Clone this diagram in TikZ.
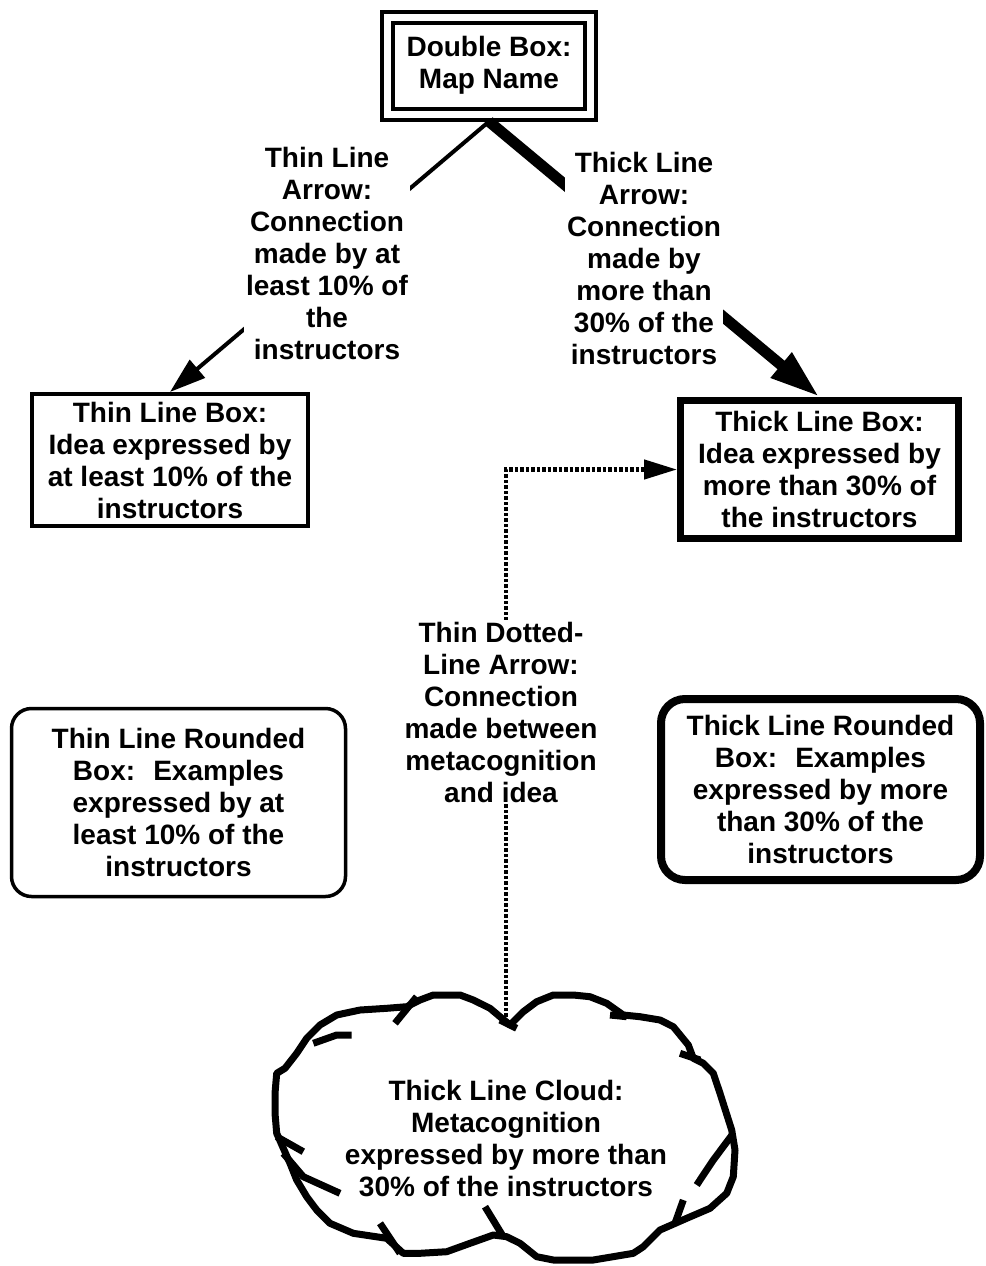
\documentclass[tikz,border=0pt]{standalone}
\usepackage{fontspec}
\setmainfont{Liberation Sans}
\usetikzlibrary{arrows.meta}
\begin{document}
\begin{tikzpicture}[x=1pt,y=-1pt,
  every node/.style={font=\bfseries\fontsize{28}{32}\selectfont, align=center},
  labeltext/.style={fill=white, inner sep=2pt},
  doublebox/.style={draw, double, double distance=7pt, line width=4pt,
    minimum width=203pt, minimum height=97pt, inner sep=0pt, outer sep=7.5pt},
  plainbox/.style={draw, line width=4pt, minimum width=276pt, minimum height=132pt, inner sep=0pt},
  heavybox/.style={draw, line width=7pt, minimum width=278pt, minimum height=138pt, inner sep=0pt},
  roundthin/.style={draw, rounded corners=20pt, line width=3.5pt, minimum width=334pt, minimum height=188pt, inner sep=0pt},
  roundthick/.style={draw, rounded corners=24pt, line width=8pt, minimum width=319pt, minimum height=181pt, inner sep=0pt},
  thinconn/.style={line width=4pt, -{Triangle[length=36pt,width=23pt]}},
  heavyconn/.style={line width=11pt, -{Triangle[length=50pt,width=30pt]}},
  dotconn/.style={line width=4.5pt, dash pattern=on 3.5pt off 2pt, -{Triangle[length=33pt,width=19pt]}},
  cloudline/.style={line width=7pt, line join=round},
]
\useasboundingbox (0,0) rectangle (985,1266);

% boxes
\node[doublebox] (dbl) at (489,65.5) {Double Box:\\Map Name};
\node[plainbox] (thinbox) at (170,460) {Thin Line Box:\\Idea expressed by\\at least 10\% of the\\instructors};
\node[heavybox] (thickbox) at (819.5,469.5) {Thick Line Box:\\Idea expressed by\\more than 30\% of\\the instructors};
\node[roundthin] (thinround) at (178.5,802.5) {Thin Line Rounded\\Box:~ Examples\\expressed by at\\least 10\% of the\\instructors};
\node[roundthick] (thickround) at (820.5,789.5) {Thick Line Rounded\\Box:~ Examples\\expressed by more\\than 30\% of the\\instructors};

% cloud outline
\draw[cloudline] (510,1025) -- (500,1016.7) -- (490,1008.3) -- (473.3,1000) -- (460,995)
  -- (433.3,995) -- (420,1000) -- (406.7,1006.7) -- (386.7,1008.3) -- (360,1010)
  -- (336.7,1015) -- (320,1025) -- (306.7,1038.3) -- (296.7,1053.3) -- (285,1068.3)
  -- (276.7,1073.3) -- (275,1093.3) -- (275,1113.3) -- (276.7,1133.3) -- (290,1163.3)
  -- (296.7,1180) -- (306.7,1196.7) -- (316.7,1210) -- (330,1223.3) -- (353.3,1233.3)
  -- (386.7,1238.3) -- (403.3,1253.3) -- (420,1253.3) -- (446.7,1251.7) -- (470,1243.3)
  -- (493.3,1235) -- (506.7,1236.7) -- (520,1243.3) -- (536.7,1256.7) -- (553.3,1260)
  -- (593.3,1260) -- (633.3,1253.3) -- (643.3,1246.7) -- (660,1230) -- (686.7,1218.3)
  -- (710,1208.3) -- (726.7,1193.3) -- (733.3,1176.7) -- (735,1150) -- (731.7,1130)
  -- (720,1093.3) -- (713.3,1073.3) -- (703.3,1063.3) -- (693.3,1058.3) -- (688.3,1045)
  -- (673.3,1026.7) -- (660,1020) -- (640,1016.7) -- (623.3,1015) -- (606.7,1003.3)
  -- (590,996.7) -- (573.3,995) -- (553.3,995) -- (536.7,1001.7) -- (523.3,1011.7) -- cycle;
% small arc strokes of the cloud
\draw[cloudline] (395,1023.3) -- (416.7,996.7);
\draw[cloudline] (351.7,1035) -- (336.7,1035) -- (313.3,1043.3);
\draw[cloudline] (276.7,1136.7) -- (303.3,1151.7);
\draw[cloudline] (283.3,1153.3) -- (303.3,1176.7) -- (340,1193.3);
\draw[cloudline] (380,1223.3) -- (400,1253.3);
\draw[cloudline] (485,1206.7) -- (503.3,1236.7);
\draw[cloudline] (683.3,1200) -- (675,1223.3);
\draw[cloudline] (696.7,1185) -- (713.3,1160) -- (733.3,1133.3);
\draw[cloudline] (610,1015) -- (626.7,1016.7);
\draw[cloudline] (680,1053.3) -- (700,1060);
\draw[cloudline] (500,1020) -- (516.7,1028.3);
\node (cloud) at (506,1138.5) {Thick Line Cloud:\\Metacognition\\expressed by more than\\30\% of the instructors};
\coordinate (cloudtop) at (506,1022);

% connectors
\draw[thinconn] (dbl.south) -- (thinbox.north);
\draw[heavyconn] (dbl.south) -- (thickbox.north);
\draw[dotconn] (cloudtop) |- (thickbox.west);

% connector labels
\node[labeltext] (thinlabel) at (327,253) {Thin Line\\Arrow:\\Connection\\made by at\\least 10\% of\\the\\instructors};
\node[labeltext] (thicklabel) at (644,258) {Thick Line\\Arrow:\\Connection\\made by\\more than\\30\% of the\\instructors};
\node[labeltext] (dotlabel) at (501,712) {Thin Dotted-\\Line Arrow:\\Connection\\made between\\metacognition\\and idea};
\end{tikzpicture}
\end{document}
